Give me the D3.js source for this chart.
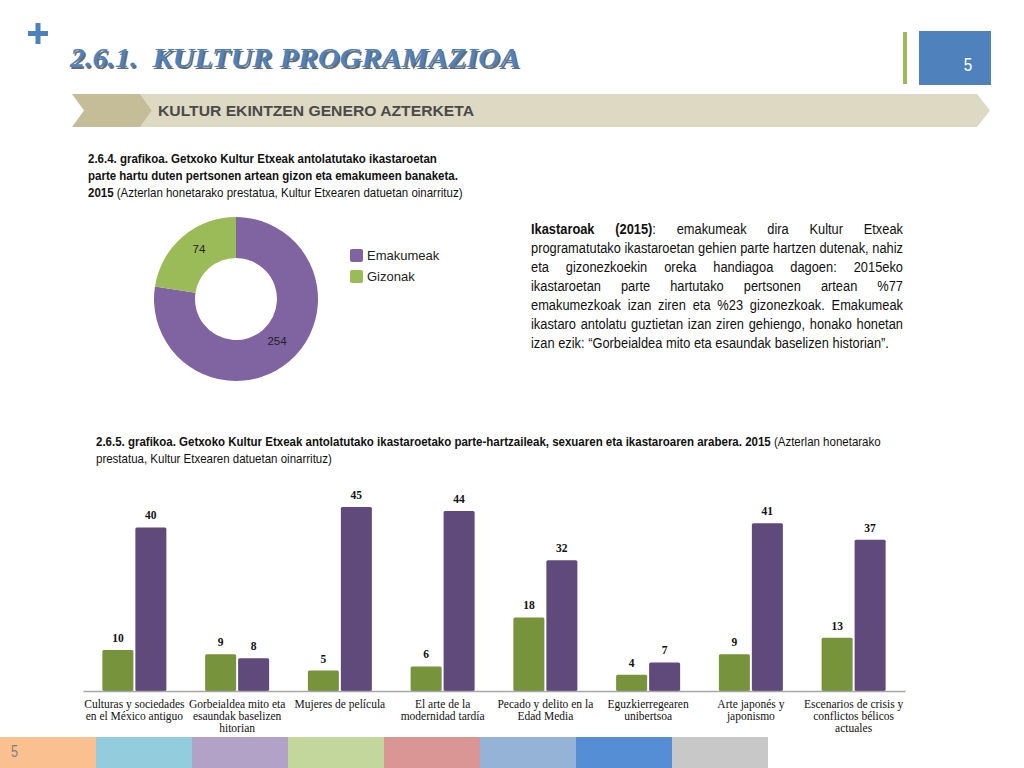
<!DOCTYPE html>
<html><head><meta charset="utf-8">
<script src="https://cdn.jsdelivr.net/npm/d3@7"></script>
<style>
html,body{margin:0;padding:0;background:#fff;}
svg{display:block;}
</style></head>
<body>
<svg id="c" width="1024" height="768"></svg>
<script>
// ---------- data ----------
const donutLabels = ["Emakumeak", "Gizonak"];
const donutValues = [254, 74];
const categories = [
  "Culturas y sociedades\nen el México antiguo",
  "Gorbeialdea mito eta\nesaundak baselizen\nhitorian",
  "Mujeres de película",
  "El arte de la\nmodernidad tardía",
  "Pecado y delito en la\nEdad Media",
  "Eguzkierregearen\nunibertsoa",
  "Arte japonés y\njaponismo",
  "Escenarios de crisis y\nconflictos bélicos\nactuales"
];
const seriesNames = ["Gizonak", "Emakumeak"];
const menValues = [10, 9, 5, 6, 18, 4, 9, 13];
const womenValues = [40, 8, 45, 44, 32, 7, 41, 37];
const stripColors = ["#FAC090","#93CDDD","#B3A2C7","#C3D69B","#D99694","#95B3D7","#558ED5","#C8C8C8"];

const sans = "'Liberation Sans',Arial,sans-serif";
const serif = "'Liberation Serif','Times New Roman',serif";

const svg = d3.select("#c");

// ---------- header ----------
svg.append("rect").attr("x",28).attr("y",31).attr("width",20).attr("height",5).attr("fill","#4F81BD");
svg.append("rect").attr("x",35.5).attr("y",23).attr("width",5).attr("height",21).attr("fill","#4F81BD");

const titleTxt = "2.6.1.  KULTUR PROGRAMAZIOA";
svg.append("text").attr("x",71.5).attr("y",68.5).text(titleTxt)
  .attr("font-family",serif).attr("font-style","italic").attr("font-weight","bold")
  .attr("font-size",27).attr("fill","#6b6b6b").attr("textLength",450).attr("lengthAdjust","spacingAndGlyphs")
  .style("white-space","pre");
svg.append("text").attr("x",70).attr("y",67).text(titleTxt)
  .attr("font-family",serif).attr("font-style","italic").attr("font-weight","bold")
  .attr("font-size",27).attr("fill","#4F81BD").attr("textLength",450).attr("lengthAdjust","spacingAndGlyphs")
  .style("white-space","pre");

svg.append("rect").attr("x",903).attr("y",32).attr("width",4).attr("height",52).attr("fill","#9BBB59");
svg.append("rect").attr("x",919).attr("y",31).attr("width",72).attr("height",54).attr("fill","#4F81BD");
svg.append("g").attr("transform","translate(968,71) scale(0.8,1)").append("text")
  .attr("text-anchor","middle").text("5").attr("font-family",sans).attr("font-size",19).attr("fill","#fff");

// banner
svg.append("path").attr("d","M140,94 L977,94 L990,110.5 L977,127 L140,127 L152,110.5 Z").attr("fill","#DDD9C3");
svg.append("path").attr("d","M72,94 L140,94 L152,110.5 L140,127 L72,127 L84,110.5 Z").attr("fill","#C4BD97");
svg.append("text").attr("x",158).attr("y",116).text("KULTUR EKINTZEN GENERO AZTERKETA")
  .attr("font-family",sans).attr("font-weight","bold").attr("font-size",15).attr("fill","#4a4a4a")
  .attr("textLength",316).attr("lengthAdjust","spacingAndGlyphs");

// ---------- captions (condensed) ----------
function caption(x, y, lh, f, lines) {
  const g = svg.append("g").attr("transform",`translate(${x},${y}) scale(${f},1)`);
  const t = g.append("text").attr("font-family",sans).attr("font-size",13).attr("fill","#111");
  lines.forEach((ln,i)=>{
    const tl = t.append("tspan").attr("x",0).attr("y",i*lh);
    ln.forEach(seg=>{
      tl.append("tspan").text(seg[0]).attr("font-weight",seg[1]?"bold":"normal");
    });
  });
}
caption(88,163,17,0.885,[
  [["2.6.4. grafikoa. Getxoko Kultur Etxeak antolatutako ikastaroetan",1]],
  [["parte hartu duten pertsonen artean gizon eta emakumeen banaketa.",1]],
  [["2015",1],[" (Azterlan honetarako prestatua, Kultur Etxearen datuetan oinarrituz)",0]]
]);

// ---------- donut ----------
const donutColors = d3.scaleOrdinal().domain(donutLabels).range(["#8064A2","#9BBB59"]);
const pie = d3.pie().sort(null).value(d=>d.v);
const pdata = pie(donutLabels.map((l,i)=>({l, v: donutValues[i]})));
const arc = d3.arc().innerRadius(41).outerRadius(82);
const labArc = d3.arc().innerRadius(60).outerRadius(60);
const dg = svg.append("g").attr("transform","translate(236,299)");
dg.selectAll("path").data(pdata).join("path").attr("d",arc).attr("fill",d=>donutColors(d.data.l));
dg.selectAll("text").data(pdata).join("text")
  .attr("transform",d=>{const c=labArc.centroid(d); return `translate(${c[0]+2},${c[1]-4})`;})
  .attr("text-anchor","middle").attr("dy","0.35em")
  .attr("font-family",sans).attr("font-size",11.5).attr("fill","#222")
  .text(d=>d.data.v);

const lg = svg.append("g");
donutLabels.forEach((l,i)=>{
  lg.append("rect").attr("x",350).attr("y",249+i*21).attr("width",13).attr("height",13).attr("rx",2).attr("fill",donutColors(l));
  lg.append("text").attr("x",367).attr("y",260+i*21).text(l)
    .attr("font-family",sans).attr("font-size",13).attr("fill","#222");
});

// ---------- justified paragraph ----------
const paraLines = [
  [["Ikastaroak",1],["(2015)",1,":"],["emakumeak",0],["dira",0],["Kultur",0],["Etxeak",0]],
  "programatutako ikastaroetan gehien parte hartzen dutenak, nahiz",
  "eta gizonezkoekin oreka handiagoa dagoen: 2015eko",
  "ikastaroetan parte hartutako pertsonen artean %77",
  "emakumezkoak izan ziren eta %23 gizonezkoak. Emakumeak",
  "ikastaro antolatu guztietan izan ziren gehiengo, honako honetan",
  "izan ezik: “Gorbeialdea mito eta esaundak baselizen historian”."
];
const px0 = 531, px1 = 903, py0 = 234, plh = 19, pfs = 14.5;
// condensation factor so that the longest line fits the column
const probe = svg.append("text").attr("font-family",sans).attr("font-size",pfs).text(paraLines[1]);
const pf = (px1-px0) / probe.node().getComputedTextLength();
probe.remove();
paraLines.forEach((ln,i)=>{
  const yy = py0 + i*plh;
  let words;
  if (typeof ln === "string") words = ln.split(" ").map(w=>[w,0]);
  else words = ln;
  const nodes = words.map(w=>{
    const g = svg.append("g");
    const t = g.append("text").attr("font-family",sans).attr("font-size",pfs).attr("fill","#111");
    t.append("tspan").text(w[0]).attr("font-weight",w[1]?"bold":"normal");
    if (w[2]) t.append("tspan").text(w[2]);
    return {g, w: t.node().getComputedTextLength()*pf};
  });
  const total = d3.sum(nodes, n=>n.w);
  const last = i===paraLines.length-1;
  const gap = last ? pfs*0.28*pf : (px1-px0-total)/(nodes.length-1);
  let x = px0;
  nodes.forEach(n=>{ n.g.attr("transform",`translate(${x},${yy}) scale(${pf},1)`); x += n.w+gap; });
});

// ---------- bar chart caption ----------
caption(96,446,17,0.885,[
  [["2.6.5. grafikoa. Getxoko Kultur Etxeak antolatutako ikastaroetako parte-hartzaileak, sexuaren eta ikastaroaren arabera. 2015",1],[" (Azterlan honetarako",0]],
  [["prestatua, Kultur Etxearen datuetan oinarrituz)",0]]
]);

// ---------- bar chart ----------
const bx0 = 83, bx1 = 905, by0 = 691;
const x0 = d3.scaleBand().domain(categories).range([bx0,bx1]).paddingInner(0).paddingOuter(0);
const x1 = d3.scaleBand().domain(seriesNames).range([0,64]).paddingInner(0.06);
const y = d3.scaleLinear().domain([0,45]).range([by0,507]);
const barColor = d3.scaleOrdinal().domain(seriesNames).range(["#77933C","#604A7B"]);

const rows = categories.map((c,i)=>({c, vals:[{s:"Gizonak",v:menValues[i]},{s:"Emakumeak",v:womenValues[i]}]}));
const groups = svg.append("g").selectAll("g").data(rows).join("g")
  .attr("transform",d=>`translate(${x0(d.c)+x0.bandwidth()/2-32},0)`);
groups.selectAll("rect").data(d=>d.vals).join("rect")
  .attr("x",d=>x1(d.s)).attr("width",x1.bandwidth())
  .attr("y",d=>y(d.v)).attr("height",d=>by0-y(d.v))
  .attr("rx",1.5).attr("fill",d=>barColor(d.s));
groups.selectAll("text").data(d=>d.vals).join("text")
  .attr("x",d=>x1(d.s)+x1.bandwidth()/2).attr("y",d=>y(d.v)-8)
  .attr("text-anchor","middle").attr("font-family",serif).attr("font-weight","bold")
  .attr("font-size",11.5).attr("fill","#111").text(d=>d.v);

// axis
const ax = svg.append("g").attr("transform",`translate(0,${by0})`)
  .call(d3.axisBottom(x0).tickSize(0).tickFormat(""));
ax.select(".domain").attr("stroke","#A6A6A6").attr("stroke-width",1.5);
ax.selectAll(".tick").each(function(d){
  const t = d3.select(this).append("text").attr("fill","#111").attr("font-family",serif)
    .attr("font-size",11.5).attr("text-anchor","middle");
  d.split("\n").forEach((ln,i)=>t.append("tspan").attr("x",0).attr("y",17+i*12).text(ln));
});

// ---------- bottom strip ----------
svg.append("g").selectAll("rect").data(stripColors).join("rect")
  .attr("x",(d,i)=>i*96).attr("y",737).attr("width",96).attr("height",31).attr("fill",d=>d);
svg.append("g").attr("transform","translate(11,757) scale(0.75,1)").append("text")
  .text("5").attr("font-family",sans).attr("font-size",17).attr("fill","#7f7f7f");
</script>
</body></html>
